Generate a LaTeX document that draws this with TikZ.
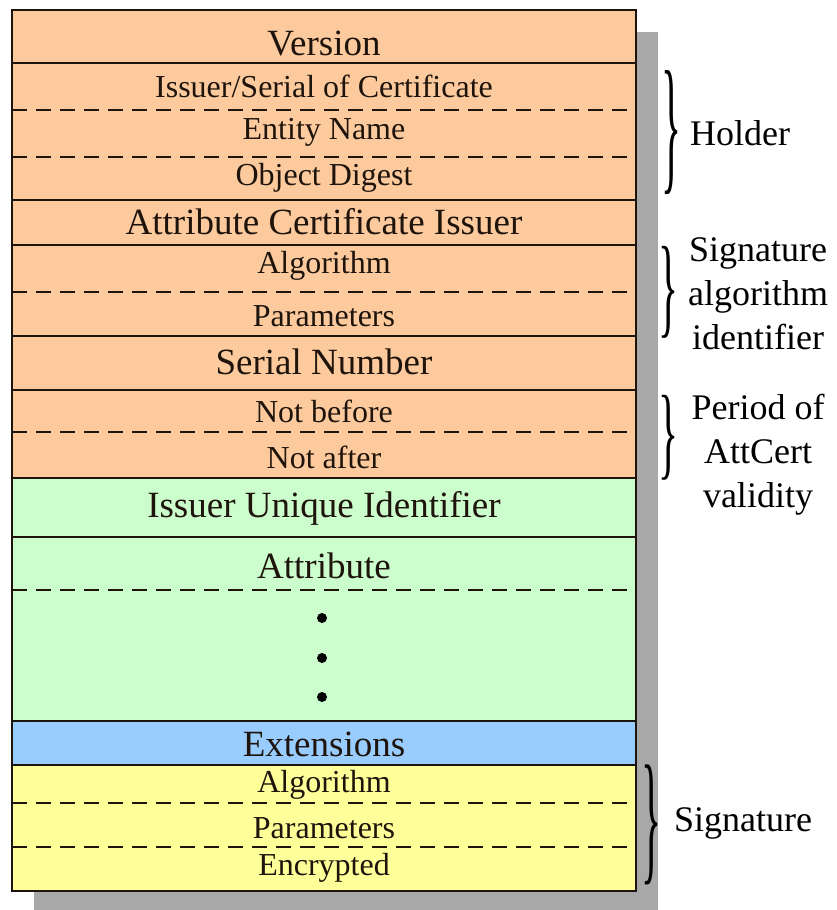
\documentclass[tikz,border=0pt]{standalone}
\usepackage{fontspec}
\setmainfont{Liberation Serif}
\definecolor{peach}{RGB}{253,202,158}
\definecolor{mint}{RGB}{204,253,204}
\definecolor{sky}{RGB}{153,204,255}
\definecolor{lemon}{RGB}{255,255,153}
\definecolor{shadowgray}{RGB}{168,168,168}
\definecolor{ink}{RGB}{30,20,12}
\newcommand{\bigsz}{\fontsize{37}{42}\selectfont}
\newcommand{\smallsz}{\fontsize{32}{36}\selectfont}
\newcommand{\sidesz}{\fontsize{36}{44}\selectfont}
% a tall curly brace glyph stretched to a given width and height
\newcommand{\tallbrace}[2]{\resizebox*{#1}{#2}{\fontsize{40}{40}\selectfont\}}}
\tikzset{
  solidrule/.style={draw=ink,line width=2.4pt},
  dashrule/.style={draw=ink,line width=2pt,dash pattern=on 15pt off 9pt},
  bigfield/.style={font=\bigsz,text=ink,inner sep=0pt},
  smallfield/.style={font=\smallsz,text=ink,inner sep=0pt},
  sidelabel/.style={font=\sidesz,text=black,inner sep=0pt,align=center},
  bracemark/.style={inner sep=0pt,text=black},
  dotmark/.style={circle,fill=black,inner sep=0pt,minimum size=10pt}
}
\begin{document}
\begin{tikzpicture}[x=1pt,y=-1pt]
\useasboundingbox (0,0) rectangle (836,910);
% drop shadow
\fill[shadowgray] (34,32) rectangle (658,910);
% coloured bands
\fill[peach] (12,10) rectangle (636,478);
\fill[mint] (12,478) rectangle (636,721);
\fill[sky] (12,721) rectangle (636,765);
\fill[lemon] (12,765) rectangle (636,891);
% solid separators
\foreach \yy in {63,200,245,336,390,478,537,721,765}
  \draw[solidrule] (12,\yy) -- (636,\yy);
% dashed separators
\foreach \yy in {110,157,292,432,590,803,847}
  \draw[dashrule] (12,\yy) -- (636,\yy);
% outer frame
\draw[solidrule] (12,10) rectangle (636,891);
% field labels
\node[bigfield] (version) at (324,44) {Version};
\node[smallfield] (holderis) at (324,86) {Issuer/Serial of Certificate};
\node[smallfield] (entity) at (324,132) {Entity Name};
\node[smallfield] (digest) at (324,178) {Object Digest};
\node[bigfield] (acissuer) at (324,222) {Attribute Certificate Issuer};
\node[smallfield] (sigalg) at (324,266) {Algorithm};
\node[smallfield] (sigpar) at (324,316) {Parameters};
\node[bigfield] (serial) at (324,362) {Serial Number};
\node[smallfield] (notbefore) at (324,411) {Not before};
\node[smallfield] (notafter) at (324,457) {Not after};
\node[bigfield] (uid) at (324,508) {Issuer Unique Identifier};
\node[bigfield] (attr) at (324,566) {Attribute};
\node[dotmark] (d1) at (322,618) {};
\node[dotmark] (d2) at (322,658) {};
\node[dotmark] (d3) at (322,697) {};
\node[bigfield] (ext) at (324,744) {Extensions};
\node[smallfield] (salg) at (324,785) {Algorithm};
\node[smallfield] (spar) at (324,828) {Parameters};
\node[smallfield] (senc) at (324,868) {Encrypted};
% braces and side labels
\node[bracemark] (hbrace) at (671,133) {\tallbrace{20pt}{124pt}};
\node[sidelabel,anchor=west] (holder) at (690,133) {Holder};
\node[bracemark] (abrace) at (668,292) {\tallbrace{20pt}{92pt}};
\node[sidelabel] (sigid) at (758,294) {Signature\\algorithm\\identifier};
\node[bracemark] (pbrace) at (668,438) {\tallbrace{20pt}{85pt}};
\node[sidelabel] (period) at (758,455) {Period of\\AttCert\\validity};
\node[bracemark] (sbrace) at (651,825) {\tallbrace{20pt}{120pt}};
\node[sidelabel,anchor=west] (signature) at (674,823) {Signature};
\end{tikzpicture}
\end{document}
